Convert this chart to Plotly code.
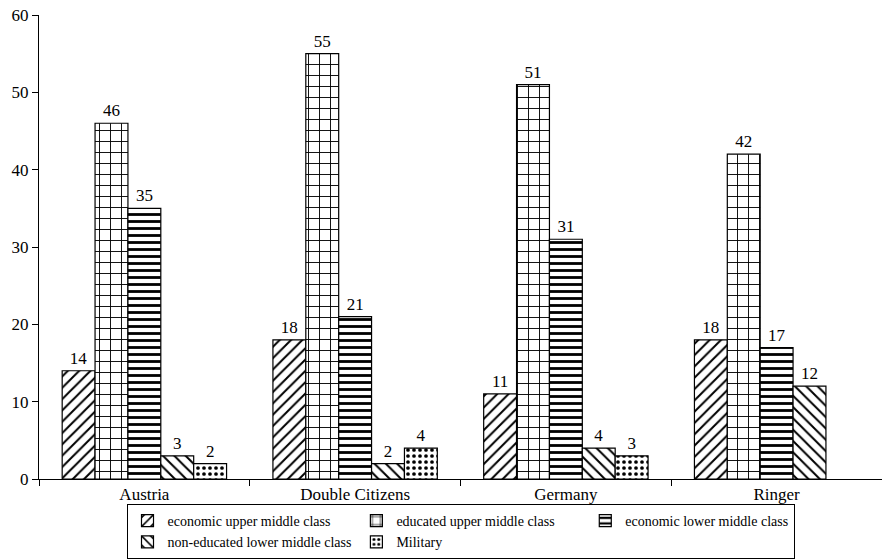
import plotly.graph_objects as go

countries = ["Austria", "Double Citizens", "Germany", "Ringer"]
econ_upper = [14, 18, 11, 18]
educ_upper = [46, 55, 51, 42]
econ_lower = [35, 21, 31, 17]
non_educ_lower = [3, 2, 4, 12]
military = [2, 4, 3, None]

series = [
    ("economic upper middle class", econ_upper, "/", 8, 0.25),
    ("educated upper middle class", educ_upper, "+", 11, 0.16),
    ("economic lower middle class", econ_lower, "-", 7, 0.4),
    ("non-educated lower middle class", non_educ_lower, "\\", 8, 0.25),
    ("Military", military, ".", 6, 0.3),
]

FONT = "Liberation Serif"

fig = go.Figure()
for name, vals, shape, size, solidity in series:
    fig.add_trace(go.Bar(
        name=name,
        x=countries,
        y=vals,
        text=[("" if v is None else str(v)) for v in vals],
        textposition="outside",
        cliponaxis=False,
        textfont=dict(family=FONT, size=17, color="black"),
        marker=dict(
            color="white",
            line=dict(color="black", width=1.2),
            pattern=dict(shape=shape, fgcolor="black", bgcolor="white",
                         size=size, solidity=solidity, fillmode="replace"),
        ),
    ))

fig.update_layout(
    width=882, height=559,
    margin=dict(l=39, r=0, t=15, b=80, autoexpand=False),
    paper_bgcolor="white", plot_bgcolor="white",
    barmode="group", bargap=0.22, bargroupgap=0,
    font=dict(family=FONT, size=17, color="black"),
    showlegend=True,
    legend=dict(
        orientation="h", x=0.5, xanchor="center", y=-0.054, yanchor="top",
        bordercolor="black", borderwidth=1,
        font=dict(family=FONT, size=14, color="black"),
        itemwidth=30, tracegroupgap=0,
    ),
    xaxis=dict(
        showline=True, linecolor="black", linewidth=1,
        ticks="outside", ticklen=6, tickcolor="black",
        tickson="boundaries", showgrid=False,
        tickfont=dict(family=FONT, size=17),
    ),
    yaxis=dict(
        range=[0, 60], dtick=10,
        showline=True, linecolor="black", linewidth=1,
        ticks="outside", ticklen=6, tickcolor="black",
        showgrid=False, zeroline=False,
        tickfont=dict(family=FONT, size=17),
    ),
)

fig.write_html("out.html")
